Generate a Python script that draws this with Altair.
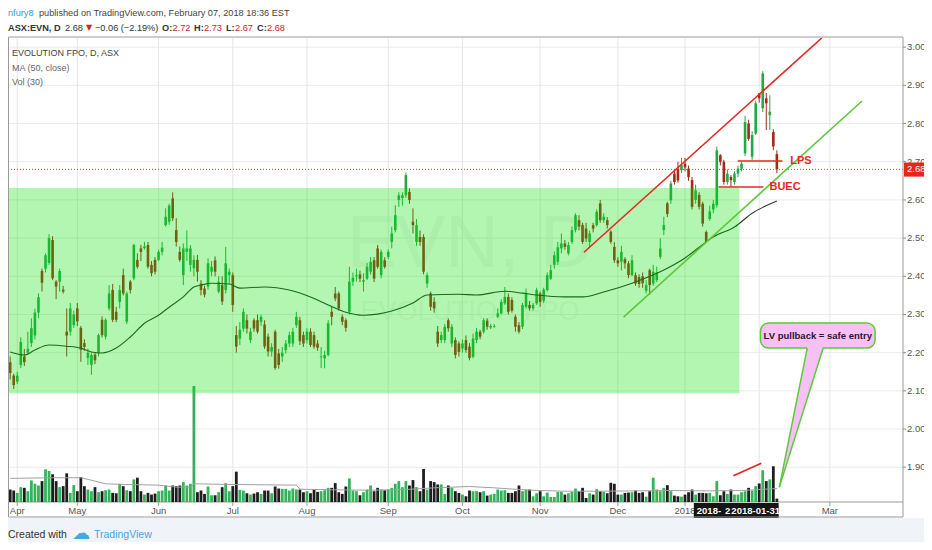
import altair as alt
import pandas as pd

FONT = "Liberation Sans"
UP = "#25a844"
DOWN = "#a12a18"
VOL_UP = "#34b35a"
VOL_DOWN = "#1e1e1e"
RED = "#e5271f"
GREEN_LINE = "#5cc93c"
PINK = "#f7c1f5"

# ---------------- data ----------------
FIRST_INDEX = -2  # trading-day index, 0 = 2017-04-03
opens = [
    2.175, 2.14, 2.124, 2.168, 2.19, 2.20, 2.225, 2.245, 2.305, 2.414,
    2.42, 2.435, 2.495, 2.386, 2.386, 2.365, 2.255, 2.255, 2.272, 2.316,
    2.265, 2.225, 2.186, 2.168, 2.195, 2.198, 2.286, 2.242, 2.316, 2.364,
    2.307, 2.333, 2.403, 2.281, 2.386, 2.395, 2.443, 2.473, 2.474, 2.482,
    2.43, 2.443, 2.443, 2.464, 2.534, 2.543, 2.604, 2.521, 2.464, 2.403,
    2.464, 2.43, 2.421, 2.443, 2.381, 2.368, 2.373, 2.412, 2.442, 2.36,
    2.377, 2.364, 2.403, 2.403, 2.246, 2.237, 2.263, 2.285, 2.233, 2.285,
    2.285, 2.281, 2.274, 2.242, 2.203, 2.255, 2.198, 2.19, 2.207, 2.224,
    2.224, 2.272, 2.285, 2.246, 2.233, 2.255, 2.246, 2.224, 2.188, 2.185,
    2.194, 2.307, 2.355, 2.355, 2.294, 2.285, 2.307, 2.386, 2.40, 2.405,
    2.386, 2.394, 2.412, 2.442, 2.473, 2.403, 2.442, 2.451, 2.49, 2.521,
    2.60, 2.605, 2.612, 2.621, 2.543, 2.49, 2.503, 2.503, 2.381, 2.355,
    2.333, 2.255, 2.233, 2.233, 2.285, 2.224, 2.233, 2.224, 2.211, 2.233,
    2.216, 2.189, 2.233, 2.255, 2.255, 2.284, 2.266, 2.268, 2.294, 2.303,
    2.329, 2.346, 2.338, 2.294, 2.272, 2.268, 2.32, 2.325, 2.316, 2.329,
    2.355, 2.336, 2.364, 2.394, 2.43, 2.438, 2.473, 2.486, 2.46, 2.49,
    2.521, 2.547, 2.534, 2.525, 2.49, 2.534, 2.534, 2.591, 2.547, 2.547,
    2.517, 2.477, 2.442, 2.438, 2.445, 2.434, 2.403, 2.403, 2.398, 2.40,
    2.362, 2.416, 2.381, 2.39, 2.451, 2.521, 2.591, 2.599, 2.669, 2.682,
    2.678, 2.695, 2.682, 2.652, 2.60, 2.613, 2.59, 2.516, 2.55, 2.575,
    2.586, 2.717, 2.70, 2.647, 2.66, 2.647, 2.669, 2.682, 2.722, 2.80,
    2.713, 2.774, 2.879, 2.84, 2.866, 2.822, 2.778, 2.72,
]
highs = [
    2.19, 2.145, 2.15, 2.24, 2.21, 2.255, 2.29, 2.315, 2.355, 2.42,
    2.46, 2.51, 2.505, 2.39, 2.42, 2.375, 2.316, 2.33, 2.31, 2.33,
    2.27, 2.235, 2.21, 2.20, 2.20, 2.25, 2.295, 2.29, 2.377, 2.38,
    2.32, 2.377, 2.42, 2.36, 2.39, 2.485, 2.46, 2.482, 2.49, 2.49,
    2.44, 2.45, 2.47, 2.49, 2.578, 2.59, 2.62, 2.552, 2.478, 2.486,
    2.52, 2.482, 2.455, 2.456, 2.39, 2.375, 2.447, 2.44, 2.452, 2.40,
    2.40, 2.477, 2.42, 2.41, 2.27, 2.28, 2.316, 2.30, 2.265, 2.29,
    2.30, 2.30, 2.285, 2.25, 2.225, 2.26, 2.21, 2.215, 2.233, 2.255,
    2.265, 2.307, 2.294, 2.255, 2.264, 2.264, 2.255, 2.233, 2.215, 2.205,
    2.285, 2.32, 2.372, 2.36, 2.30, 2.29, 2.425, 2.41, 2.42, 2.415,
    2.408, 2.435, 2.45, 2.45, 2.482, 2.47, 2.45, 2.47, 2.53, 2.586,
    2.62, 2.62, 2.672, 2.63, 2.578, 2.55, 2.52, 2.51, 2.41, 2.36,
    2.345, 2.27, 2.255, 2.275, 2.29, 2.275, 2.24, 2.23, 2.235, 2.245,
    2.225, 2.25, 2.265, 2.26, 2.29, 2.29, 2.275, 2.275, 2.316, 2.34,
    2.372, 2.355, 2.345, 2.30, 2.28, 2.33, 2.368, 2.335, 2.33, 2.37,
    2.36, 2.37, 2.41, 2.43, 2.465, 2.49, 2.512, 2.495, 2.49, 2.53,
    2.565, 2.56, 2.54, 2.54, 2.52, 2.54, 2.575, 2.60, 2.565, 2.555,
    2.52, 2.49, 2.45, 2.48, 2.45, 2.44, 2.455, 2.41, 2.405, 2.41,
    2.39, 2.42, 2.43, 2.425, 2.50, 2.556, 2.595, 2.65, 2.68, 2.70,
    2.71, 2.71, 2.69, 2.66, 2.64, 2.62, 2.595, 2.52, 2.585, 2.60,
    2.74, 2.72, 2.705, 2.68, 2.665, 2.675, 2.69, 2.70, 2.82, 2.81,
    2.78, 2.86, 2.88, 2.937, 2.88, 2.874, 2.785, 2.73,
]
lows = [
    2.13, 2.105, 2.118, 2.16, 2.165, 2.195, 2.215, 2.235, 2.29, 2.36,
    2.41, 2.43, 2.39, 2.34, 2.36, 2.355, 2.19, 2.245, 2.265, 2.27,
    2.176, 2.205, 2.168, 2.142, 2.17, 2.19, 2.24, 2.235, 2.31, 2.28,
    2.28, 2.316, 2.35, 2.275, 2.355, 2.39, 2.42, 2.44, 2.47, 2.42,
    2.40, 2.405, 2.44, 2.455, 2.53, 2.535, 2.545, 2.478, 2.438, 2.377,
    2.44, 2.412, 2.40, 2.386, 2.35, 2.345, 2.365, 2.40, 2.40, 2.355,
    2.325, 2.355, 2.38, 2.307, 2.20, 2.22, 2.255, 2.25, 2.225, 2.255,
    2.25, 2.27, 2.21, 2.19, 2.19, 2.155, 2.158, 2.176, 2.198, 2.215,
    2.215, 2.265, 2.22, 2.215, 2.224, 2.215, 2.21, 2.205, 2.16, 2.159,
    2.19, 2.272, 2.335, 2.31, 2.272, 2.255, 2.30, 2.375, 2.386, 2.385,
    2.36, 2.39, 2.405, 2.385, 2.42, 2.395, 2.42, 2.445, 2.473, 2.515,
    2.582, 2.585, 2.605, 2.59, 2.512, 2.48, 2.48, 2.405, 2.37, 2.31,
    2.305, 2.215, 2.225, 2.225, 2.255, 2.215, 2.185, 2.19, 2.20, 2.20,
    2.18, 2.185, 2.225, 2.235, 2.25, 2.26, 2.262, 2.265, 2.29, 2.30,
    2.325, 2.30, 2.305, 2.255, 2.25, 2.262, 2.315, 2.31, 2.31, 2.325,
    2.32, 2.33, 2.36, 2.39, 2.42, 2.43, 2.46, 2.47, 2.455, 2.485,
    2.515, 2.52, 2.485, 2.49, 2.475, 2.515, 2.53, 2.54, 2.54, 2.525,
    2.485, 2.435, 2.425, 2.415, 2.42, 2.395, 2.40, 2.375, 2.37, 2.37,
    2.355, 2.351, 2.375, 2.385, 2.445, 2.508, 2.555, 2.59, 2.64, 2.645,
    2.67, 2.675, 2.65, 2.575, 2.59, 2.575, 2.53, 2.487, 2.545, 2.565,
    2.58, 2.69, 2.64, 2.64, 2.635, 2.64, 2.66, 2.675, 2.715, 2.755,
    2.705, 2.77, 2.855, 2.83, 2.783, 2.783, 2.73, 2.67,
]
closes = [
    2.147, 2.115, 2.14, 2.228, 2.175, 2.21, 2.264, 2.305, 2.345, 2.383,
    2.455, 2.50, 2.395, 2.373, 2.414, 2.36, 2.245, 2.316, 2.30, 2.282,
    2.208, 2.215, 2.20, 2.194, 2.18, 2.246, 2.246, 2.286, 2.355, 2.286,
    2.286, 2.364, 2.355, 2.355, 2.364, 2.482, 2.425, 2.464, 2.478, 2.425,
    2.408, 2.412, 2.464, 2.475, 2.556, 2.585, 2.552, 2.49, 2.443, 2.473,
    2.473, 2.473, 2.443, 2.412, 2.364, 2.352, 2.434, 2.425, 2.412, 2.386,
    2.334, 2.434, 2.412, 2.325, 2.216, 2.26, 2.307, 2.263, 2.255, 2.263,
    2.255, 2.294, 2.216, 2.203, 2.215, 2.16, 2.168, 2.20, 2.224, 2.246,
    2.255, 2.294, 2.23, 2.224, 2.255, 2.22, 2.216, 2.213, 2.19, 2.194,
    2.277, 2.294, 2.342, 2.316, 2.281, 2.265, 2.386, 2.396, 2.403, 2.394,
    2.39, 2.425, 2.438, 2.394, 2.425, 2.464, 2.425, 2.464, 2.512, 2.56,
    2.612, 2.612, 2.665, 2.60, 2.534, 2.534, 2.49, 2.412, 2.403, 2.32,
    2.316, 2.224, 2.246, 2.268, 2.264, 2.268, 2.194, 2.202, 2.224, 2.207,
    2.186, 2.237, 2.255, 2.242, 2.285, 2.268, 2.27, 2.27, 2.303, 2.333,
    2.346, 2.307, 2.31, 2.268, 2.255, 2.325, 2.355, 2.316, 2.325, 2.364,
    2.333, 2.365, 2.403, 2.416, 2.455, 2.476, 2.486, 2.477, 2.482, 2.521,
    2.56, 2.53, 2.49, 2.499, 2.512, 2.525, 2.569, 2.547, 2.556, 2.534,
    2.49, 2.442, 2.434, 2.464, 2.434, 2.403, 2.442, 2.381, 2.38, 2.382,
    2.377, 2.377, 2.412, 2.41, 2.473, 2.534, 2.563, 2.643, 2.647, 2.651,
    2.691, 2.685, 2.66, 2.582, 2.625, 2.582, 2.538, 2.49, 2.57, 2.59,
    2.73, 2.70, 2.647, 2.669, 2.652, 2.669, 2.682, 2.695, 2.804, 2.76,
    2.77, 2.853, 2.866, 2.931, 2.853, 2.831, 2.74, 2.68,
]
volumes = [  # millions of shares
    3.7, 3.4, 2.7, 4.4, 4.2, 3.2, 6.4, 5.4, 4.9, 6.2,
    9.7, 9.2, 8.2, 6.2, 4.4, 4.7, 8.5, 2.7, 5.0, 3.2,
    7.4, 4.7, 3.7, 3.2, 4.4, 2.9, 3.2, 3.5, 3.7, 2.7,
    2.6, 5.4, 4.7, 3.5, 3.2, 6.7, 7.2, 3.2, 2.2, 2.7,
    2.2, 2.5, 3.2, 3.4, 4.9, 3.4, 4.9, 4.7, 4.9, 5.9,
    4.9, 5.4, 34.4, 2.9, 3.4, 2.4, 4.6, 2.0, 2.0, 2.9,
    4.4, 5.6, 3.2, 4.7, 9.0, 3.6, 3.4, 2.6, 2.2, 2.5,
    2.9, 2.4, 3.4, 3.4, 2.6, 4.6, 4.0, 3.9, 3.9, 3.4,
    4.0, 3.7, 3.7, 2.9, 3.2, 2.6, 3.7, 3.0, 3.2, 3.5,
    4.2, 4.2, 5.6, 2.9, 2.4, 4.6, 7.0, 3.4, 3.2, 2.0,
    2.9, 3.7, 4.9, 3.2, 4.2, 3.7, 3.5, 3.7, 4.2, 5.4,
    6.2, 4.4, 6.2, 4.9, 6.5, 4.4, 3.2, 9.8, 3.7, 6.2,
    5.9, 5.2, 5.2, 2.4, 4.9, 4.2, 3.2, 2.7, 2.2, 1.7,
    3.4, 3.2, 3.2, 2.9, 3.2, 1.9, 2.2, 2.4, 3.7, 3.4,
    3.5, 2.7, 2.7, 3.2, 4.9, 3.2, 3.7, 3.7, 1.7, 2.6,
    3.2, 1.7, 2.8, 1.5, 1.5, 3.0, 3.0, 2.2, 2.6, 3.0,
    4.0, 3.2, 4.2, 1.2, 2.6, 2.2, 3.8, 3.2, 3.0, 2.6,
    5.7, 5.4, 2.2, 2.2, 2.7, 2.8, 2.9, 3.4, 2.7, 2.9,
    1.6, 3.2, 7.2, 3.7, 3.2, 4.2, 5.0, 3.2, 1.9, 1.7,
    1.6, 2.2, 2.9, 3.7, 2.2, 2.7, 2.7, 2.6, 2.7, 1.7,
    6.2, 2.0, 3.2, 2.4, 3.7, 2.2, 2.2, 2.9, 3.2, 4.2,
    3.4, 4.7, 5.5, 9.4, 6.2, 6.7, 10.6, 1.0,
]

# MA(50, close) as drawn
ma_idx = [-2, 2, 5, 9, 14, 18, 21, 24, 28, 32, 36, 40, 43, 47, 50, 52, 55, 60, 63, 70,
          77, 83, 88, 93, 98, 102, 106, 112, 116, 125, 130, 138, 143, 147, 155, 160, 166, 174, 184, 189,
          193, 197, 203, 208, 215]
ma_val = [2.202, 2.194, 2.207, 2.220, 2.217, 2.212, 2.202, 2.199, 2.212, 2.241,
          2.277, 2.298, 2.319, 2.346, 2.372, 2.377, 2.382, 2.380, 2.369, 2.372,
          2.364, 2.346, 2.325, 2.306, 2.298, 2.301, 2.309, 2.330, 2.351, 2.353,
          2.351, 2.361, 2.356, 2.351, 2.346, 2.346, 2.359, 2.382, 2.421, 2.448,
          2.476, 2.503, 2.529, 2.565, 2.597]
# Vol(30) moving average as drawn
vma_idx = [-2, 10, 18, 22, 25, 30, 40, 45, 49, 50, 60, 70, 79, 80, 90, 100, 110, 118, 128, 135,
           145, 155, 165, 175, 185, 195, 205, 215]
vma_val = [7.0, 7.2, 7.2, 6.2, 5.4, 5.2, 5.0, 4.4, 4.4, 5.4, 5.2, 5.1, 5.0, 3.8, 3.6, 3.5, 3.7, 4.2, 4.6, 4.2,
           3.5, 3.2, 3.2, 3.3, 3.4, 3.3, 3.4, 4.0]

month_idx = [0, 17, 40, 61, 82, 105, 126, 148, 170, 189, 210, 230]
month_lbl = ["Apr", "May", "Jun", "Jul", "Aug", "Sep", "Oct", "Nov", "Dec", "2018", "Feb", "Mar"]
price_ticks = [1.9, 2.0, 2.1, 2.2, 2.3, 2.4, 2.5, 2.6, 2.7, 2.8, 2.9, 3.0]

# drawings (in bar index / price units)
zone_idx = [-2.62, 204.4]
zone_price = [2.094, 2.631]
red_chan_idx = [160.4, 227.7]
red_chan_price = [2.463, 3.024]
green_chan_idx = [171.6, 239.1]
green_chan_price = [2.293, 2.859]
lps_idx = [203.9, 216.6]
lps_price = 2.702
buec_idx = [198.5, 211.2]
buec_price = 2.634
lps_text_idx, buec_text_idx = 218.8, 212.9
vol_trend_idx = [202.7, 210.6]
vol_trend_val = [7.8, 11.5]
callout_idx = [210.35, 242.8]
callout_price = [2.212, 2.2775]
callout_text = "LV pullback = safe entry"
pointer_idx = [223.6, 228.1, 215.7]
pointer_price = [2.215, 1.848]
date_lbl_idx = [198, 206, 209]
date_lbl_txt = ["2018-01-15", "2018-01-25", "2018-01-31"]

X_DOM = [-2.62, 250.7]
P_DOM = [1.809, 3.024]
V_DOM = [0, 137.6]
W, H = 895, 464
BOX_W = 46

# ---------------- build ----------------
n = len(closes)
bars = pd.DataFrame({
    "i": list(range(FIRST_INDEX, FIRST_INDEX + n)),
    "o": opens, "h": highs, "l": lows, "c": closes, "v": volumes,
})
ONE = pd.DataFrame({"k": [0]})

xs = alt.Scale(domain=X_DOM, nice=False, zero=False, padding=0)
ps = alt.Scale(domain=P_DOM, nice=False, zero=False, padding=0)
vs = alt.Scale(domain=V_DOM, nice=False, zero=True, padding=0)
PX_PER_BAR = W / (X_DOM[1] - X_DOM[0])


def X(field):
    return alt.X(field, scale=xs, axis=None)


def PY(field):
    return alt.Y(field, scale=ps, axis=None)


def tx(txt, x, y, color="#333333", size=9.5, weight="normal", align="left",
       font=FONT, opacity=1.0):
    return alt.Chart(ONE).mark_text(
        align=align, baseline="middle", font=font, fontSize=size,
        fontWeight=weight, color=color, opacity=opacity
    ).encode(x=alt.value(x), y=alt.value(y), text=alt.value(txt))


def seg(x0, x1, y0, y1, color, width, scale):
    df = pd.DataFrame({"x0": [x0], "x1": [x1], "y0": [y0], "y1": [y1]})
    return alt.Chart(df).mark_rule(color=color, strokeWidth=width, clip=True).encode(
        x=X("x0:Q"), x2="x1:Q", y=alt.Y("y0:Q", scale=scale, axis=None), y2="y1:Q")


up_cond = alt.condition("datum.c >= datum.o", alt.value(UP), alt.value(DOWN))
vol_cond = alt.condition("datum.c >= datum.o", alt.value(VOL_UP), alt.value(VOL_DOWN))

layers = []

# ---- background strip, watermark ----
layers.append(alt.Chart(ONE).mark_rect(color="#f0f3f7").encode(
    x=alt.value(0), x2=alt.value(916), y=alt.value(480), y2=alt.value(504)))
layers.append(tx("EVN, D", 462, 207, color="#000000", size=74, align="center", opacity=0.035))
layers.append(tx("EVOLUTION FPO", 462, 274, color="#000000", size=27, align="center", opacity=0.035))

# ---- hand-made axes (grid, ticks, labels) ----
pt_df = pd.DataFrame({"p": price_ticks, "t": [f"{p:.2f}" for p in price_ticks]})
mo_df = pd.DataFrame({"i": month_idx, "t": month_lbl})
# month labels hidden under the date markers of the time axis are not drawn
box_lo = min(date_lbl_idx) - BOX_W / 2 / PX_PER_BAR
box_hi = max(date_lbl_idx) + BOX_W / 2 / PX_PER_BAR
mo_vis = mo_df[(mo_df["i"] < box_lo) | (mo_df["i"] > box_hi)]
layers.append(alt.Chart(pt_df).mark_rule(color="#ebebeb", strokeWidth=1).encode(y=PY("p:Q")))
layers.append(alt.Chart(mo_df).mark_rule(color="#e6e6e6", strokeWidth=1).encode(x=X("i:Q")))
layers.append(alt.Chart(pt_df).mark_rule(color="#888888").encode(
    x=alt.value(W), x2=alt.value(W + 3), y=PY("p:Q")))
layers.append(alt.Chart(pt_df).mark_text(align="left", baseline="middle", font=FONT, fontSize=9.5,
                                         color="#555555").encode(
    x=alt.value(W + 4), y=PY("p:Q"), text="t:N"))
layers.append(alt.Chart(ONE).mark_rule(color="#999999").encode(
    x=alt.value(0), x2=alt.value(W), y=alt.value(H)))
layers.append(alt.Chart(mo_df).mark_rule(color="#999999").encode(
    x=X("i:Q"), y=alt.value(H), y2=alt.value(H + 4)))
layers.append(alt.Chart(mo_vis).mark_text(align="center", baseline="middle", font=FONT, fontSize=9.5,
                                          color="#555555").encode(
    x=X("i:Q"), y=alt.value(H + 9), text="t:N"))

# ---- volume ----
layers.append(alt.Chart(bars).mark_bar(width=2.8).encode(
    x=X("i:Q"), y=alt.Y("v:Q", scale=vs, axis=None), color=vol_cond))
vma_df = pd.DataFrame({"i": vma_idx, "v": vma_val})
layers.append(alt.Chart(vma_df).mark_line(color="#a0a0a0", strokeWidth=1).encode(
    x=X("i:Q"), y=alt.Y("v:Q", scale=vs, axis=None)))
layers.append(seg(vol_trend_idx[0], vol_trend_idx[1], vol_trend_val[0], vol_trend_val[1], RED, 1.6, vs))

# ---- price ----
layers.append(alt.Chart(bars).mark_rule(strokeWidth=1).encode(
    x=X("i:Q"), y=PY("l:Q"), y2="h:Q", color=up_cond))
layers.append(alt.Chart(bars).mark_bar(width=2.6).encode(
    x=X("i:Q"), y=PY("o:Q"), y2="c:Q", color=up_cond))
ma_df = pd.DataFrame({"i": ma_idx, "p": ma_val})
layers.append(alt.Chart(ma_df).mark_line(color="#263826", strokeWidth=1.1, interpolate="monotone").encode(
    x=X("i:Q"), y=PY("p:Q")))
zone_df = pd.DataFrame({"x0": [zone_idx[0]], "x1": [zone_idx[1]],
                        "y0": [zone_price[0]], "y1": [zone_price[1]]})
layers.append(alt.Chart(zone_df).mark_rect(color="#00e000", opacity=0.3).encode(
    x=X("x0:Q"), x2="x1:Q", y=PY("y0:Q"), y2="y1:Q"))

last_df = pd.DataFrame({"p": [closes[-1]]})
layers.append(alt.Chart(last_df).mark_rule(color="#e53935", strokeWidth=1, strokeDash=[1, 2]).encode(
    y=PY("p:Q")))

layers.append(seg(red_chan_idx[0], red_chan_idx[1], red_chan_price[0], red_chan_price[1], RED, 1.6, ps))
layers.append(seg(green_chan_idx[0], green_chan_idx[1], green_chan_price[0], green_chan_price[1],
                  GREEN_LINE, 1.6, ps))
layers.append(seg(lps_idx[0], lps_idx[1], lps_price, lps_price, RED, 1.6, ps))
layers.append(seg(buec_idx[0], buec_idx[1], buec_price, buec_price, RED, 1.6, ps))


def data_text(txt, xi, p, color, size, weight, align="left"):
    df = pd.DataFrame({"x": [xi], "p": [p], "t": [txt]})
    return alt.Chart(df).mark_text(align=align, baseline="middle", font=FONT, fontSize=size,
                                   fontWeight=weight, color=color).encode(
        x=X("x:Q"), y=PY("p:Q"), text="t:N")


layers.append(data_text("LPS", lps_text_idx, lps_price, RED, 11, "bold"))
layers.append(data_text("BUEC", buec_text_idx, buec_price, RED, 11, "bold"))

call_df = pd.DataFrame({"x0": [callout_idx[0]], "x1": [callout_idx[1]],
                        "y0": [callout_price[0]], "y1": [callout_price[1]]})
layers.append(alt.Chart(call_df).mark_rect(cornerRadius=8, fill=PINK, stroke=GREEN_LINE,
                                           strokeWidth=1.5).encode(
    x=X("x0:Q"), x2="x1:Q", y=PY("y0:Q"), y2="y1:Q"))
ptr_df = pd.DataFrame({"p": [pointer_price[0], pointer_price[1]],
                       "x0": [pointer_idx[0], pointer_idx[2]],
                       "x1": [pointer_idx[1], pointer_idx[2]]})
layers.append(alt.Chart(ptr_df).mark_area(orient="horizontal", color=PINK).encode(
    y=PY("p:Q"), x=X("x0:Q"), x2="x1:Q"))
layers.append(seg(pointer_idx[0], pointer_idx[2], callout_price[0], pointer_price[1], GREEN_LINE, 1.5, ps))
layers.append(seg(pointer_idx[1], pointer_idx[2], callout_price[0], pointer_price[1], GREEN_LINE, 1.5, ps))
layers.append(data_text(callout_text, (callout_idx[0] + callout_idx[1]) / 2,
                        (callout_price[0] + callout_price[1]) / 2, "#2a1533", 9.5, "bold", align="center"))

# price tag on the right axis
tag_df = pd.DataFrame({"p0": [closes[-1] - 0.019], "p1": [closes[-1] + 0.018], "p": [closes[-1]],
                       "t": [f"{closes[-1]:.2f}"]})
layers.append(alt.Chart(tag_df).mark_rect(color="#e8251c").encode(
    x=alt.value(W + 1), x2=alt.value(916), y=PY("p0:Q"), y2="p1:Q"))
layers.append(alt.Chart(tag_df).mark_text(align="left", baseline="middle", font=FONT, fontSize=9.5,
                                          color="white").encode(
    x=alt.value(W + 4), y=PY("p:Q"), text="t:N"))

# date markers on the time axis: each drawn over the previous one, so the
# text of a covered marker is cut where the next marker's text starts
for k, (di, dt) in enumerate(zip(date_lbl_idx, date_lbl_txt)):
    ddf = pd.DataFrame({"i": [di], "t": [dt]})
    layers.append(alt.Chart(ddf).mark_bar(width=BOX_W, color="#151515").encode(
        x=X("i:Q"), y=alt.value(465), y2=alt.value(480)))
    if k + 1 < len(date_lbl_idx):
        visible = (date_lbl_idx[k + 1] - di) * PX_PER_BAR - 1
        layers.append(alt.Chart(ddf).mark_text(
            align="left", baseline="middle", font=FONT, fontSize=9.5, fontWeight="bold",
            color="white", dx=-BOX_W / 2 + 3, limit=visible, ellipsis="\u200b").encode(
            x=X("i:Q"), y=alt.value(472.5), text="t:N"))
    else:
        layers.append(alt.Chart(ddf).mark_text(
            align="center", baseline="middle", font=FONT, fontSize=9.5, fontWeight="bold",
            color="white").encode(x=X("i:Q"), y=alt.value(472.5), text="t:N"))

# header, legend and footer texts
last, prev = closes[-1], closes[-2]
chg = last - prev
pct = chg / prev * 100
fm = lambda v: f"{v:.2f}".replace("-", "\u2212")
layers += [
    tx("nfury8", 0, -25, color="#2f9be0", size=9.2),
    tx("published on TradingView.com, February 07, 2018 18:36 EST", 31, -25, color="#444444", size=9.2),
    tx("ASX:EVN, D", 0, -10, color="#333333", size=9.2, weight="bold"),
    tx(fm(last), 57, -10, color="#333333", size=9.2),
    tx("\u25bc", 78, -10, color="#c62828", size=8, font="DejaVu Sans"),
    tx(f"{fm(chg)} ({fm(pct)}%)", 87, -10, color="#333333", size=9.2),
    tx("O:", 154, -10, size=9.2, weight="bold"),
    tx(fm(opens[-1]), 164.5, -10, color="#c62828", size=9.2),
    tx("H:", 186, -10, size=9.2, weight="bold"),
    tx(fm(highs[-1]), 196, -10, color="#c62828", size=9.2),
    tx("L:", 218, -10, size=9.2, weight="bold"),
    tx(fm(lows[-1]), 227, -10, color="#c62828", size=9.2),
    tx("C:", 249, -10, size=9.2, weight="bold"),
    tx(fm(closes[-1]), 259, -10, color="#c62828", size=9.2),
    tx("EVOLUTION FPO, D, ASX", 4, 15, color="#444444", size=9),
    tx("MA (50, close)", 4, 30, color="#666666", size=9),
    tx("Vol (30)", 4, 44, color="#666666", size=9),
    tx("Created with", 0, 497, color="#333333", size=10.5),
    tx("\u2601", 73, 496, color="#49a6e0", size=18, align="center", font="DejaVu Sans"),
    tx("TradingView", 86, 497, color="#49a6e0", size=10.5),
]

# frame
layers.append(alt.Chart(ONE).mark_rect(fillOpacity=0, stroke="#9a9a9a", strokeWidth=1).encode(
    x=alt.value(0.5), x2=alt.value(W), y=alt.value(-1), y2=alt.value(479)))

chart = alt.layer(*layers).resolve_scale(y="independent").properties(
    width=W, height=H,
    autosize=alt.AutoSizeParams(type="none"),
    padding={"left": 0, "top": 30, "right": 21, "bottom": 40},
    background="white",
).configure_view(stroke=None)

chart.save("out.html", embed_options={"renderer": "svg", "actions": False})
